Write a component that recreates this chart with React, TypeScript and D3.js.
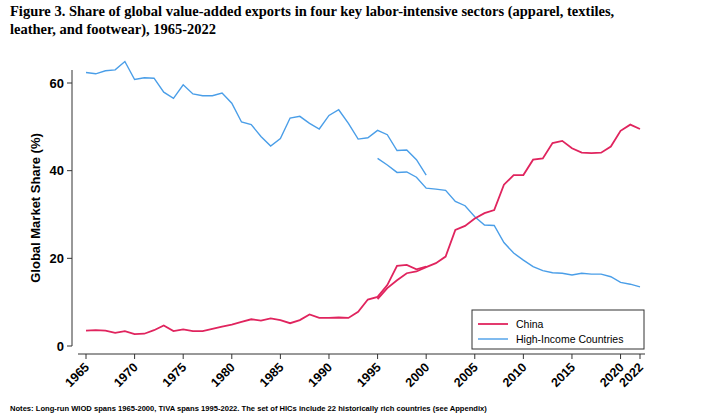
import * as d3 from "d3";

const chinaWiodYears = d3.range(1965, 2001);
const chinaWiod = [3.5, 3.6, 3.5, 3.0, 3.4, 2.7, 2.8, 3.6, 4.7, 3.4, 3.8, 3.4, 3.4, 3.9, 4.4, 4.9, 5.5, 6.1, 5.8, 6.3, 5.9, 5.2, 5.9, 7.2, 6.4, 6.4, 6.5, 6.4, 7.8, 10.6, 11.2, 13.9, 18.3, 18.5, 17.5, 18.1];
const hicWiod = [62.4, 62.1, 62.8, 63.0, 64.9, 60.8, 61.2, 61.1, 57.9, 56.5, 59.6, 57.5, 57.1, 57.1, 57.7, 55.4, 51.1, 50.5, 47.8, 45.6, 47.3, 52.0, 52.4, 50.8, 49.5, 52.6, 53.9, 50.8, 47.2, 47.5, 49.2, 48.2, 44.6, 44.7, 42.5, 39.0];
const tivaYears = d3.range(1995, 2023);
const chinaTiva = [10.7, 13.2, 15.0, 16.6, 17.0, 18.0, 18.9, 20.4, 26.5, 27.4, 29.1, 30.3, 31.0, 36.8, 39.0, 39.0, 42.5, 42.8, 46.3, 46.8, 45.1, 44.1, 44.0, 44.1, 45.5, 49.1, 50.5, 49.5];
const hicTiva = [42.8, 41.3, 39.6, 39.7, 38.5, 36.0, 35.8, 35.5, 33.0, 32.0, 29.5, 27.6, 27.5, 23.6, 21.2, 19.6, 18.1, 17.2, 16.7, 16.6, 16.2, 16.6, 16.4, 16.4, 15.8, 14.5, 14.1, 13.5];
const xTicks = [1965, 1970, 1975, 1980, 1985, 1990, 1995, 2000, 2005, 2010, 2015, 2020, 2022];
const yTicks = [0, 20, 40, 60];

const RED = "#e0245e";
const BLUE = "#4a9ee8";

export default function App() {
  const x = d3.scaleLinear().domain([1965, 2022]).range([86, 640]);
  const y = d3.scaleLinear().domain([0, 60]).range([346, 83]);
  const line = (years: number[], vals: number[]) =>
    d3.line<number>().x((_, i) => x(years[i])).y((v) => y(v))(vals) || "";
  const sans = "Liberation Sans, Arial, sans-serif";
  return (
    <svg width={712} height={418} style={{ position: "absolute", left: 0, top: 0, background: "#fff" }}>
      <text fontFamily="Liberation Serif, serif" fontWeight="bold" fontSize={14.5} fill="#000">
        <tspan x={10} y={16}>Figure 3. Share of global value-added exports in four key labor-intensive sectors (apparel, textiles,</tspan>
        <tspan x={10} y={34}>leather, and footwear), 1965-2022</tspan>
      </text>
      {/* y axis */}
      <line x1={72} x2={72} y1={70} y2={346} stroke="#333" />
      {yTicks.map((t) => (
        <g key={t}>
          <line x1={67} x2={72} y1={y(t)} y2={y(t)} stroke="#333" />
          <text x={64} y={y(t) + 4.5} textAnchor="end" fontFamily={sans} fontSize={13} fontWeight="bold">{t}</text>
        </g>
      ))}
      <text transform="translate(40,208) rotate(-90)" textAnchor="middle" fontFamily={sans} fontSize={13} fontWeight="bold">Global Market Share (%)</text>
      {/* x axis */}
      <line x1={78} x2={645} y1={354} y2={354} stroke="#333" />
      {xTicks.map((t) => (
        <g key={t}>
          <line x1={x(t)} x2={x(t)} y1={354} y2={359} stroke="#333" />
          <text transform={`translate(${x(t) + 4},${368}) rotate(-45)`} textAnchor="end" fontFamily={sans} fontSize={12.5} fontWeight="bold">{t}</text>
        </g>
      ))}
      <path d={line(chinaWiodYears, hicWiod)} fill="none" stroke={BLUE} strokeWidth={1.4} />
      <path d={line(tivaYears, hicTiva)} fill="none" stroke={BLUE} strokeWidth={1.4} />
      <path d={line(chinaWiodYears, chinaWiod)} fill="none" stroke={RED} strokeWidth={1.8} />
      <path d={line(tivaYears, chinaTiva)} fill="none" stroke={RED} strokeWidth={1.8} />
      {/* legend */}
      <rect x={472} y={310} width={172} height={39} fill="#fff" stroke="#333" />
      <line x1={478} x2={508} y1={324} y2={324} stroke={RED} strokeWidth={1.8} />
      <text x={516} y={328} fontFamily={sans} fontSize={10.5}>China</text>
      <line x1={478} x2={508} y1={339} y2={339} stroke={BLUE} strokeWidth={1.4} />
      <text x={516} y={343} fontFamily={sans} fontSize={10.5}>High-Income Countries</text>
      <text x={10} y={411} fontFamily={sans} fontSize={7.6} fontWeight="bold">Notes: Long-run WIOD spans 1965-2000, TiVA spans 1995-2022. The set of HICs include 22 historically rich countries (see Appendix)</text>
    </svg>
  );
}
